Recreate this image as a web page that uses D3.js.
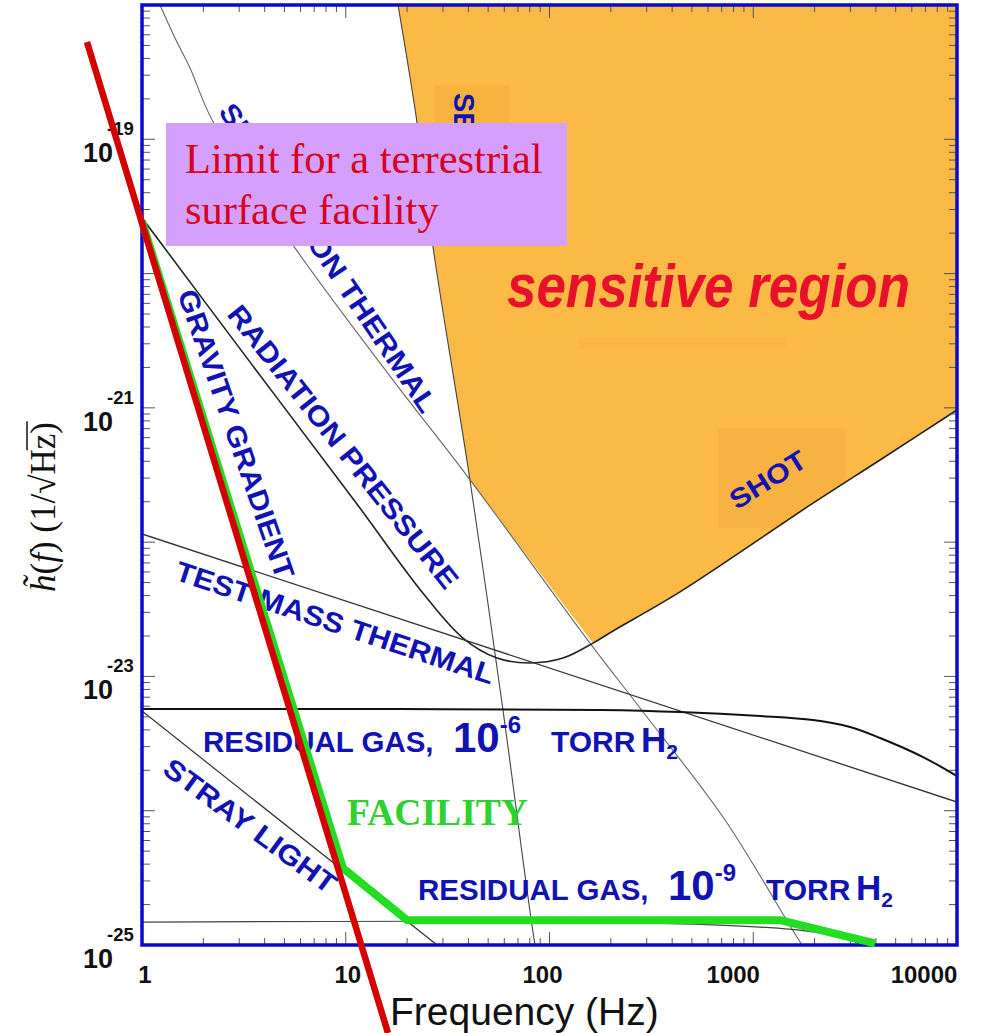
<!DOCTYPE html>
<html>
<head>
<meta charset="utf-8">
<script src="https://cdn.jsdelivr.net/npm/d3@7"></script>
<style>
  body { margin: 0; background: #fff; }
  svg { display: block; }
</style>
</head>
<body>
<svg id="chart" width="1000" height="1033"></svg>
<script>
// Noise budget curves: [frequency (Hz), strain noise h(f) (1/sqrt(Hz))]
const seismic = [[18.05, 1.0e-18], [22.4, 1.32e-19], [26.8, 1.58e-20], [40.7, 2.90e-22], [59.1, 5.62e-24], [84.9, 1.0e-25], [90, 6.5e-26]];
const suspensionThermal = [[1.225, 1.0e-18], [1.452, 5.68e-19], [1.72, 3.40e-19], [2.21, 1.39e-19], [5.51, 1.63e-20], [17.06, 1.61e-21], [39.8, 3.05e-22], [158, 1.77e-23], [278, 5.82e-24], [727, 8.53e-25], [1735, 1.0e-25], [2000, 7.5e-26]];
const quantum = [[1, 2.60e-20], [3.39, 2.19e-21], [10.9, 2.09e-22], [23.9, 4.18e-23], [37.6, 1.93e-23], [55.3, 1.37e-23], [80.2, 1.26e-23], [116.5, 1.37e-23], [163.5, 1.77e-23], [205, 2.18e-23], [437, 4.26e-23], [1964, 1.95e-22], [4190, 4.09e-22], [10000, 9.64e-22]];
const testMassThermal = [[1, 1.15e-22], [10000, 1.16e-24]];
const residualGas6 = [[1, 5.71e-24], [18.5, 5.71e-24], [177, 5.62e-24], [437, 5.43e-24], [1080, 5.07e-24], [1965, 4.73e-24], [2985, 4.20e-24], [4190, 3.48e-24], [6810, 2.51e-24], [10000, 1.81e-24]];
const residualGas9 = [[1, 1.48e-25], [177, 1.48e-25], [1080, 1.36e-25], [1965, 1.25e-25], [2985, 1.09e-25], [3600, 9.5e-26]];
const strayLight = [[1, 5.52e-24], [28.05, 1.0e-25], [32, 7.6e-26]];
const facility = [[1, 2.46e-20], [9.69, 3.74e-25], [20.0, 1.53e-25], [1353, 1.53e-25], [3958, 1.03e-25]];
const surfaceLimit = [[0.537, 5.30e-19], [16.12, 2.21e-26]];

// Axis ticks and labels
const xTickValues = [1, 10, 100, 1000, 10000];
const xTickLabels = ["1", "10", "100", "1000", "10000"];
const yTickValues = [1e-25, 1e-23, 1e-21, 1e-19];
const yTickExponents = ["-25", "-23", "-21", "-19"];

const svg = d3.select("#chart");
const mLeft = 142, mRight = 957, mTop = 5, mBottom = 945;

const x = d3.scaleLog().domain([1, 1e4]).range([mLeft, mRight]);
const y = d3.scaleLog().domain([1e-25, 1e-18]).range([mBottom, mTop]);

const BLUE = "#1212b4";
const ORANGE = "#fbb946";

// Sensitive region: everything above the seismic / suspension / quantum envelope
const envelope = []
  .concat(seismic.filter(d => d[0] <= 40.7))
  .concat(quantum.filter(d => d[0] >= 163.5));
const region = d3.area()
  .x(d => x(d[0]))
  .y0(y(1e-18))
  .y1(d => y(d[1]));

const defs = svg.append("defs");
defs.append("clipPath").attr("id", "plot")
  .append("rect").attr("x", mLeft).attr("y", mTop).attr("width", mRight - mLeft).attr("height", mBottom - mTop);
defs.append("clipPath").attr("id", "sensitive")
  .append("path").datum(envelope).attr("d", region);

const plot = svg.append("g").attr("clip-path", "url(#plot)");
plot.append("path").datum(envelope).attr("d", region).attr("fill", ORANGE);

// faint label backdrops on the orange area
const backdrops = plot.append("g").attr("clip-path", "url(#sensitive)");
backdrops.append("rect").attr("x", 435).attr("y", 85).attr("width", 74).attr("height", 150).attr("fill", "#f8b240");
backdrops.append("rect").attr("x", 718).attr("y", 428).attr("width", 128).attr("height", 100).attr("fill", "#f8b241");
backdrops.append("rect").attr("x", 578).attr("y", 337).attr("width", 208).attr("height", 13).attr("fill", "#f8b03f").attr("opacity", 0.35);

const smooth = d3.line().x(d => x(d[0])).y(d => y(d[1])).curve(d3.curveCatmullRom.alpha(0.5));
const straight = d3.line().x(d => x(d[0])).y(d => y(d[1]));

plot.append("path").datum(seismic).attr("d", smooth).attr("fill", "none").attr("stroke", "#444").attr("stroke-width", 1.1);
plot.append("path").datum(suspensionThermal).attr("d", smooth).attr("fill", "none").attr("stroke", "#666").attr("stroke-width", 1.1);
plot.append("path").datum(quantum).attr("d", smooth).attr("fill", "none").attr("stroke", "#222").attr("stroke-width", 1.6);
plot.append("path").datum(testMassThermal).attr("d", straight).attr("fill", "none").attr("stroke", "#333").attr("stroke-width", 1.3);
plot.append("path").datum(residualGas6).attr("d", smooth).attr("fill", "none").attr("stroke", "#111").attr("stroke-width", 2);
plot.append("path").datum(residualGas9).attr("d", smooth).attr("fill", "none").attr("stroke", "#444").attr("stroke-width", 1.2);
plot.append("path").datum(strayLight).attr("d", straight).attr("fill", "none").attr("stroke", "#333").attr("stroke-width", 1.2);

// Frame with inward log ticks on all sides
const frame = svg.append("g");
const isDecade = v => Math.abs(Math.log10(v) - Math.round(Math.log10(v))) < 1e-6;
x.ticks().forEach(v => {
  const len = isDecade(v) ? 13 : 7;
  frame.append("line").attr("x1", x(v)).attr("x2", x(v)).attr("y1", mBottom).attr("y2", mBottom - len).attr("stroke", "#555");
  frame.append("line").attr("x1", x(v)).attr("x2", x(v)).attr("y1", mTop).attr("y2", mTop + len).attr("stroke", "#555");
});
y.ticks().forEach(v => {
  const len = isDecade(v) ? 13 : 8;
  frame.append("line").attr("y1", y(v)).attr("y2", y(v)).attr("x1", mLeft).attr("x2", mLeft + len).attr("stroke", "#555");
  frame.append("line").attr("y1", y(v)).attr("y2", y(v)).attr("x1", mRight).attr("x2", mRight - len).attr("stroke", "#555");
});
frame.append("rect").attr("x", mLeft).attr("y", mTop).attr("width", mRight - mLeft).attr("height", mBottom - mTop)
  .attr("fill", "none").attr("stroke", "#0a0acc").attr("stroke-width", 3.5);

// Tick labels
const labelShift = [3, 2, -7, -20, -33];
xTickValues.forEach((v, i) => {
  svg.append("text").attr("x", x(v) + labelShift[i]).attr("y", 983).attr("text-anchor", "middle")
    .attr("font-family", "Liberation Sans, Arial, sans-serif").attr("font-weight", "bold").attr("font-size", 24)
    .attr("fill", "#111").text(xTickLabels[i]);
});
yTickValues.forEach((v, i) => {
  svg.append("text").attr("x", 113).attr("y", y(v) + 23).attr("text-anchor", "end")
    .attr("font-family", "Liberation Sans, Arial, sans-serif").attr("font-weight", "bold").attr("font-size", 27)
    .attr("fill", "#111").text("10");
  svg.append("text").attr("x", 107).attr("y", y(v) - 4)
    .attr("font-family", "Liberation Sans, Arial, sans-serif").attr("font-weight", "bold").attr("font-size", 18.5)
    .attr("fill", "#111").text(yTickExponents[i]);
});

// Axis titles
svg.append("text").attr("x", 390).attr("y", 1025)
  .attr("font-family", "Liberation Sans, Arial, sans-serif").attr("font-size", 39).attr("fill", "#111")
  .text("Frequency (Hz)");

const yTitle = svg.append("g").attr("transform", "translate(55,592) rotate(-90)");
const yt = yTitle.append("text").attr("x", 0).attr("y", 0)
  .attr("font-family", "Liberation Serif, Times New Roman, serif").attr("font-size", 35).attr("fill", "#111");
yt.append("tspan").attr("font-style", "italic").text("h\u0303");
yt.append("tspan").text("(");
yt.append("tspan").attr("font-style", "italic").text("f");
yt.append("tspan").text(")  (1/\u221A");
yt.append("tspan").text("Hz");
yt.append("tspan").text(")");
// overline of the square root over "Hz"
{
  const node = yt.node();
  const full = node.textContent;
  const hIdx = full.indexOf("Hz");
  const e = node.getEndPositionOfChar(hIdx + 1);
  const rootIdx = full.indexOf("\u221A");
  const rs = node.getEndPositionOfChar(rootIdx);
  yTitle.append("line").attr("x1", rs.x - 1).attr("x2", e.x + 1).attr("y1", -28).attr("y2", -28)
    .attr("stroke", "#111").attr("stroke-width", 1.5);
}

// Curve labels
const labels = svg.append("g")
  .attr("font-family", "Liberation Sans, Arial, Helvetica, sans-serif").attr("font-weight", "bold").attr("fill", BLUE);
function rotLabel(text, cx, cy, angle, len, size) {
  labels.append("text").attr("transform", `translate(${cx},${cy}) rotate(${angle})`)
    .attr("text-anchor", "middle").attr("dominant-baseline", "central")
    .attr("font-size", size).attr("textLength", len).attr("lengthAdjust", "spacingAndGlyphs")
    .text(text);
}
rotLabel("SEISMIC", 464, 152, 90, 118, 30);
rotLabel("SUSPENSION THERMAL", 328, 258, 56, 366, 28);
rotLabel("RADIATION PRESSURE", 343, 447, 51.6, 353, 28);
rotLabel("GRAVITY GRADIENT", 236, 434, 70.9, 304, 28);
rotLabel("TEST MASS THERMAL", 335, 623, 18.4, 334, 28);
rotLabel("STRAY LIGHT", 250, 826, 36.3, 207, 28);
rotLabel("SHOT", 768, 480, -32, 85, 27);

// "RESIDUAL GAS, 10^p TORR H2" with its mixed font sizes
function gasLabel(x0, y0, exp) {
  const t = labels.append("text").attr("y", y0);
  t.append("tspan").attr("x", x0).attr("font-size", 29.5).text("RESIDUAL GAS,");
  t.append("tspan").attr("x", x0 + 250).attr("font-size", 42).text("10");
  t.append("tspan").attr("font-size", 24).attr("dy", -19).text(exp);
  t.append("tspan").attr("x", x0 + 348).attr("dy", 19).attr("font-size", 30).text("TORR");
  t.append("tspan").attr("x", x0 + 438).attr("font-size", 35).text("H");
  t.append("tspan").attr("font-size", 21).attr("dy", 7).text("2");
}
gasLabel(203, 752, "-6");
gasLabel(418, 900, "-9");

svg.append("text").attr("x", 507).attr("y", 307)
  .attr("font-family", "Liberation Sans, Arial, sans-serif").attr("font-weight", "bold").attr("font-style", "italic")
  .attr("font-size", 62).attr("fill", "#e8102a").attr("textLength", 403).attr("lengthAdjust", "spacingAndGlyphs")
  .text("sensitive region");

// Facility limit
svg.append("path").datum(facility).attr("d", straight).attr("fill", "none")
  .attr("stroke", "#22dd22").attr("stroke-width", 8).attr("stroke-linejoin", "round");
svg.append("text").attr("x", 347).attr("y", 825)
  .attr("font-family", "Liberation Serif, Times New Roman, serif").attr("font-weight", "bold")
  .attr("font-size", 37).attr("fill", "#2fd12f").attr("textLength", 181).attr("lengthAdjust", "spacingAndGlyphs")
  .text("FACILITY");

// Note box
svg.append("rect").attr("x", 166).attr("y", 123).attr("width", 401).attr("height", 123).attr("fill", "#d4a0fc");
const note = svg.append("text").attr("font-family", "Liberation Serif, Times New Roman, serif")
  .attr("font-size", 42.5).attr("fill", "#d7001f");
note.append("tspan").attr("x", 185).attr("y", 173).text("Limit for a terrestrial");
note.append("tspan").attr("x", 185).attr("y", 224).text("surface facility");

// Surface facility limit line
svg.append("path").datum(surfaceLimit).attr("d", straight).attr("fill", "none")
  .attr("stroke", "#d40000").attr("stroke-width", 6.5);
</script>
</body>
</html>
